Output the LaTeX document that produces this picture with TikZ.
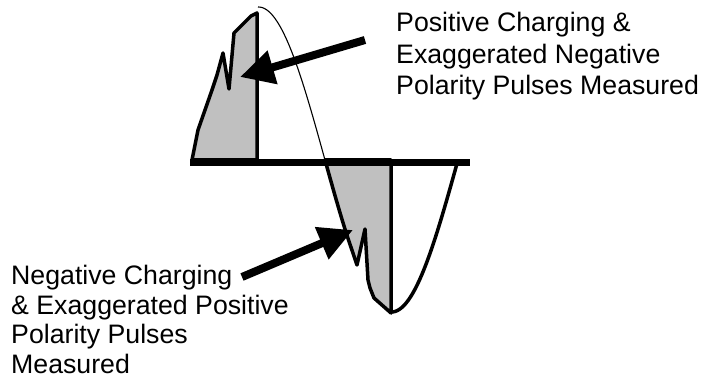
\documentclass[tikz,border=0pt]{standalone}
\usepackage{fontspec}
\setmainfont{Liberation Sans}
\usepackage{tikz}
\usetikzlibrary{arrows.meta}
\definecolor{ink}{RGB}{0,0,0}
\definecolor{shade}{RGB}{192,192,192}
\tikzset{
  baseline axis/.style={line width=7pt,ink},
  lobe/.style={line width=3.5pt,ink,fill=shade,line join=round},
  rim/.style={line width=3.5pt,ink},
  wave/.style={line width=1.1pt,ink},
  pointer/.style={line width=8pt,ink,-{Triangle[length=34pt,width=33pt]}},
  caption/.style={align=left,inner sep=0pt,text=ink,anchor=base west}
}

\begin{document}
\begin{tikzpicture}[x=1pt,y=-1pt]
  \useasboundingbox (0,0) rectangle (717,379);
  % measured pulses, shaded
  \draw[lobe] (192,160) -- (198,130) -- (205,110) -- (212,90) -- (217,75)
    -- (223,53) -- (229,89) -- (234,33) -- (251,16) -- (257,13)
    -- (257,160) -- cycle;
  \draw[lobe] plot[domain=325:347,samples=12] (\x,{160+152*sin(1.3534*(\x-325))})
    -- (357,265) -- (365,229) -- (368,280) -- (370,288) -- (374,298)
    -- (391,313) -- (391,160) -- cycle;
  % sine wave
  \draw[wave] plot[domain=258:325,samples=40] (\x,{160-153*sin(1.3534*(\x-192))});
  \draw[rim] plot[domain=391:458,samples=40] (\x,{160+152*sin(1.3534*(\x-325))});
  \draw[baseline axis] (190,163) -- (470,163);
  % labels (base = last line)
  \node[caption,font=\fontsize{26.7}{31.5}\selectfont] (poslabel) at (396,95)
    {Positive Charging \&\\Exaggerated Negative\\Polarity Pulses Measured};
  \node[caption,font=\fontsize{26.7}{29.5}\selectfont] (neglabel) at (11,373)
    {Negative Charging\\\& Exaggerated Positive\\Polarity Pulses\\Measured};
  \coordinate (postail) at (365,40);
  \coordinate (postip) at (240,77);
  \coordinate (negtail) at (242,277);
  \coordinate (negtip) at (353,230);
  \draw[pointer] (postail) -- (postip);
  \draw[pointer] (negtail) -- (negtip);
\end{tikzpicture}
\end{document}
